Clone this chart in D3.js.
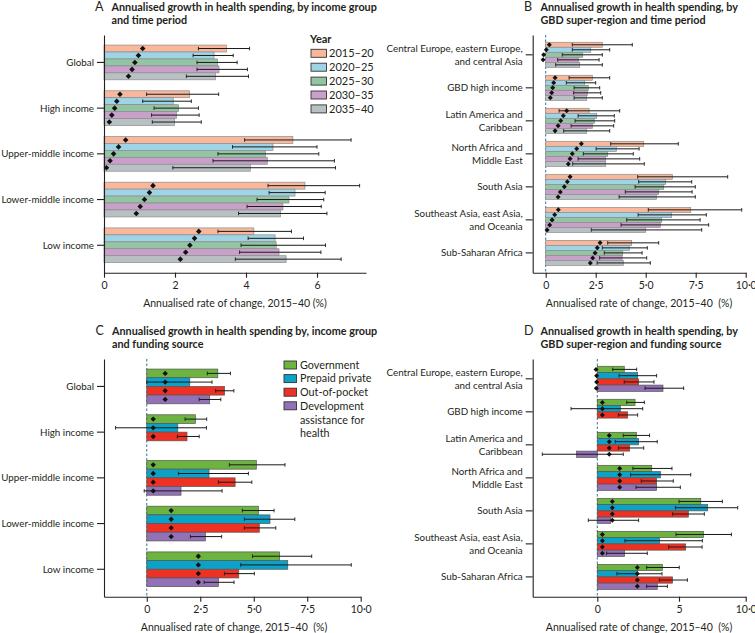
<!DOCTYPE html>
<html><head><meta charset="utf-8">
<script src="https://cdn.jsdelivr.net/npm/d3@7"></script>
<style>
body{margin:0;background:#fff}
svg{display:block}
text{font-family:Lato,"Noto Sans",sans-serif;fill:#231f20}
</style>
</head><body>
<svg id="chart" width="755" height="633"></svg>
<script>
// ---------- categories ----------
const incomeGroups = ["Global","High income","Upper-middle income","Lower-middle income","Low income"];
const superRegions = ["Central Europe, eastern Europe,\nand central Asia","GBD high income","Latin America and\nCaribbean","North Africa and\nMiddle East","South Asia","Southeast Asia, east Asia,\nand Oceania","Sub-Saharan Africa"];
const periods = ["2015–20","2020–25","2025–30","2030–35","2035–40"];
const sources = ["Government","Prepaid private","Out-of-pocket","Development\nassistance for\nhealth"];
const periodColors = ["#f9b89b","#9fd4e6","#93c4a3","#c8a0c9","#b9c0c4"];
const sourceColors = ["#6cb33f","#0ba2c8","#ee3123","#9271b6"];

// ---------- tick labels ----------
const ticksA = [0,2,4,6];
const tickLabelsA = ["0","2","4","6"];
const ticksBC = [0,2.5,5,7.5,10];
const tickLabelsBC = ["0","2·5","5·0","7·5","10·0"];
const ticksD = [0,5,10];
const tickLabelsD = ["0","5","10·0"];

// ---------- panel A: income group x time period ----------
const aBar = [
 [3.45,3.10,3.20,3.24,3.14],
 [2.41,1.95,2.10,2.04,1.99],
 [5.32,4.76,4.55,4.60,4.12],
 [5.66,5.38,5.21,5.04,4.97],
 [4.22,4.82,4.85,4.93,5.13]];
const aPoint = [
 [1.09,0.97,0.87,0.79,0.69],
 [0.45,0.36,0.30,0.22,0.15],
 [0.61,0.41,0.27,0.17,0.07],
 [1.38,1.28,1.14,1.02,0.91],
 [2.67,2.55,2.42,2.30,2.15]];
const aLo = [
 [2.66,2.51,2.62,2.62,2.32],
 [1.20,1.09,1.41,1.34,1.36],
 [3.96,3.62,3.21,3.07,1.94],
 [4.62,4.65,4.31,4.03,3.79],
 [3.21,4.06,3.86,3.82,3.70]];
const aHi = [
 [4.10,3.64,3.75,4.04,4.07],
 [3.23,2.46,2.66,2.68,2.74],
 [6.96,6.00,6.05,6.49,6.52],
 [7.20,6.23,6.19,6.12,6.28],
 [5.28,5.62,6.24,6.11,6.68]];

// ---------- panel B: super-region x time period ----------
const bBar = [
 [2.83,2.25,1.85,1.63,1.70],
 [2.33,1.95,2.13,2.08,2.05],
 [2.17,2.55,2.43,2.33,2.05],
 [4.90,3.53,3.10,3.00,3.00],
 [6.33,6.00,5.90,5.65,5.53],
 [7.25,6.30,5.80,5.73,5.00],
 [4.30,4.18,3.85,3.82,3.88]];
const bPoint = [
 [0.18,0.03,-0.10,-0.13,null],
 [0.47,0.40,0.35,0.30,0.23],
 [1.05,0.88,0.75,0.62,0.47],
 [1.78,1.55,1.33,1.22,1.13],
 [1.22,1.08,0.93,0.73,0.62],
 [0.63,0.45,0.32,0.20,0.07],
 [2.72,2.58,2.47,2.35,2.23]];
const bLo = [
 [1.33,1.33,0.83,0.60,0.50],
 [1.17,1.03,1.42,1.40,1.42],
 [0.67,1.62,1.47,1.27,0.90],
 [3.25,2.52,1.88,1.62,1.35],
 [4.60,4.65,4.47,3.98,3.67],
 [5.13,4.62,4.05,3.77,2.28],
 [3.10,2.83,2.93,2.70,2.57]];
const bHi = [
 [4.33,3.20,2.83,2.67,2.83],
 [3.20,2.50,2.70,2.75,2.83],
 [3.70,3.43,3.45,3.40,3.20],
 [6.63,4.67,4.38,4.70,4.93],
 [9.10,7.30,7.48,7.32,7.48],
 [9.80,8.03,7.72,8.15,7.80],
 [5.65,5.08,4.82,5.05,5.23]];

// ---------- panel C: income group x funding source ----------
const cBar = [
 [3.32,2.01,3.64,2.94],
 [2.27,1.45,1.88,null],
 [5.12,2.91,4.13,1.60],
 [5.22,5.76,5.26,2.74],
 [6.21,6.59,4.30,3.35]];
const cPoint = [
 [0.86,0.86,0.86,0.86],
 [0.30,0.30,0.30,null],
 [0.30,0.30,0.30,0.30],
 [1.14,1.14,1.14,1.14],
 [2.41,2.41,2.41,2.41]];
const cLo = [
 [2.83,0.00,3.22,2.45],
 [1.79,-1.46,1.43,null],
 [3.86,1.48,3.35,-0.12],
 [4.47,4.56,4.56,2.04],
 [4.94,4.39,3.63,2.68]];
const cHi = [
 [3.91,3.05,4.07,3.46],
 [2.80,2.79,2.45,null],
 [6.46,4.75,4.91,3.52],
 [5.95,6.92,6.03,3.50],
 [7.71,9.56,5.03,4.08]];

// ---------- panel D: super-region x funding source ----------
const dBar = [
 [1.65,2.47,2.53,4.02],
 [2.31,1.41,1.86,null],
 [2.39,2.53,1.98,-1.27],
 [3.33,3.86,3.63,3.63],
 [6.63,7.15,5.70,0.82],
 [6.83,3.80,5.50,1.67],
 [3.98,2.45,4.61,3.67]];
const dPoint = [
 [-0.08,-0.04,-0.04,-0.06],
 [0.31,0.31,0.31,null],
 [0.73,0.73,0.73,0.73],
 [1.37,1.37,1.37,1.37],
 [0.92,0.92,0.92,0.92],
 [0.31,0.31,0.31,0.31],
 [2.45,2.45,2.45,2.45]];
const dLo = [
 [0.94,1.33,1.65,2.92],
 [1.80,-1.61,1.29,null],
 [1.59,1.10,1.29,-3.37],
 [2.18,2.04,2.69,2.37],
 [5.00,4.78,4.61,-0.55],
 [4.82,1.69,4.37,0.57],
 [3.02,1.20,3.80,3.02]];
const dHi = [
 [2.41,3.63,3.47,5.35],
 [2.88,2.78,2.47,null],
 [3.20,3.67,2.84,1.59],
 [4.57,5.88,4.65,5.10],
 [8.25,9.40,6.90,2.53],
 [8.93,6.75,6.73,3.06],
 [5.02,3.96,5.63,4.29]];

const axisTitleA = "Annualised rate of change, 2015–40 (%)";
const axisTitleB = "Annualised rate of change, 2015–40\u00a0\u00a0(%)";

const svg = d3.select("#chart");

function panel(o){
  const g = svg.append("g");
  const y = d3.scaleBand().domain(o.cats).range(o.yRange).paddingInner(0.24).paddingOuter(0.22);
  const sub = d3.scaleBand().domain(o.keys).range([0, y.bandwidth()]);
  const x = o.x;

  if (o.zero) {
    g.append("line").attr("x1", x(0)).attr("x2", x(0))
      .attr("y1", o.yRange[0]).attr("y2", o.yRange[1])
      .attr("stroke", "#3f6f8f").attr("stroke-width", 1).attr("stroke-dasharray", "2.5,2");
  }

  o.cats.forEach((c, i) => {
    o.keys.forEach((k, j) => {
      const v = o.bar[i][j];
      if (v == null) return;
      const y0 = y(c) + sub(k), h = sub.bandwidth();
      const cy = y0 + h / 2;
      g.append("rect")
        .attr("x", Math.min(x(0), x(v))).attr("y", y0)
        .attr("width", Math.abs(x(v) - x(0))).attr("height", h)
        .attr("fill", o.colors[j]).attr("stroke", o.stroke).attr("stroke-width", 0.7);
      const lo = o.lo[i][j], hi = o.hi[i][j];
      if (lo != null) {
        g.append("line").attr("x1", x(lo)).attr("x2", x(hi)).attr("y1", cy).attr("y2", cy)
          .attr("stroke", "#1a1a1a").attr("stroke-width", 1);
        [lo, hi].forEach(e => g.append("line").attr("x1", x(e)).attr("x2", x(e))
          .attr("y1", cy - 1.8).attr("y2", cy + 1.8).attr("stroke", "#1a1a1a").attr("stroke-width", 0.9));
      }
      const p = o.point[i][j];
      if (p != null) {
        g.append("path").attr("d", d3.symbol(d3.symbolDiamond2, o.dsize)())
          .attr("transform", `translate(${x(p)},${cy})`).attr("fill", "#111");
      }
    });
  });

  // x axis
  const xa = g.append("g").attr("transform", `translate(0,${o.yRange[1]})`)
    .call(d3.axisBottom(x).tickValues(o.ticks).tickFormat((d, i) => o.tickLabels[i])
      .tickSize(5).tickSizeOuter(0).tickPadding(4));
  xa.selectAll("path,line").attr("stroke", "#231f20").attr("stroke-width", 1.1);
  xa.selectAll("text").attr("font-size", 10.5).attr("font-family", "Lato,'Noto Sans',sans-serif").attr("fill", "#231f20");

  // y axis
  const ya = g.append("g").attr("transform", `translate(${x.range()[0]},0)`)
    .call(d3.axisLeft(y).tickSize(7).tickSizeOuter(0).tickPadding(3).tickFormat(""));
  ya.selectAll("path,line").attr("stroke", "#231f20").attr("stroke-width", 1.1);
  ya.selectAll(".tick").each(function(d){
    const lines = d.split("\n");
    const t = d3.select(this).append("text").attr("x", -10).attr("text-anchor", "end")
      .attr("font-size", 9.8).attr("font-family", "Lato,'Noto Sans',sans-serif").attr("fill", "#231f20");
    lines.forEach((l, k) => t.append("tspan").attr("x", -10)
      .attr("y", (k - (lines.length - 1) / 2) * 13.3).attr("dy", "0.35em").text(l));
  });

  // axis title
  g.append("text").attr("x", o.titleX).attr("y", o.yRange[1] + 34).attr("text-anchor", "middle")
    .attr("font-size", 10.5).text(o.axisTitle);

  // panel title
  g.append("text").attr("font-size", 12.5).attr("x", o.letterX).attr("y", o.yRange[0] - 24).text(o.letter);
  o.title.forEach((l, k) => g.append("text").attr("x", o.letterX + 16.5).attr("y", o.yRange[0] - 24 + k * 12.6)
    .attr("font-size", 10.8).attr("font-weight", 700).text(l));
  return g;
}

panel({cats: incomeGroups, keys: periods, colors: periodColors, bar: aBar, point: aPoint, lo: aLo, hi: aHi,
  x: d3.scaleLinear().domain([0, 7.38]).range([104, 366]), yRange: [35, 272.7],
  ticks: ticksA, tickLabels: tickLabelsA, zero: false, stroke: "#8c8c8c", dsize: 20,
  axisTitle: axisTitleA, titleX: 235, letter: "A", letterX: 95,
  title: ["Annualised growth in health spending, by income group", "and time period"]});

panel({cats: superRegions, keys: periods, colors: periodColors, bar: bBar, point: bPoint, lo: bLo, hi: bHi,
  x: d3.scaleLinear().domain([-0.65, 10]).range([532.7, 745.7]), yRange: [35, 272.7],
  ticks: ticksBC, tickLabels: tickLabelsBC, zero: true, stroke: "#8c8c8c", dsize: 16,
  axisTitle: axisTitleB, titleX: 639, letter: "B", letterX: 524,
  title: ["Annualised growth in health spending, by", "GBD super-region and time period"]});

panel({cats: incomeGroups, keys: sources, colors: sourceColors, bar: cBar, point: cPoint, lo: cLo, hi: cHi,
  x: d3.scaleLinear().domain([-2, 10]).range([104, 360.7]), yRange: [359, 596.7],
  ticks: ticksBC, tickLabels: tickLabelsBC, zero: true, stroke: "#555", dsize: 18,
  axisTitle: axisTitleB, titleX: 234, letter: "C", letterX: 95.5,
  title: ["Annualised growth in health spending by, income group", "and funding source"]});

panel({cats: superRegions, keys: sources, colors: sourceColors, bar: dBar, point: dPoint, lo: dLo, hi: dHi,
  x: d3.scaleLinear().domain([-3.96, 0, 5, 10]).range([532.7, 597.3, 679, 745.7]), yRange: [359, 596.7],
  ticks: ticksD, tickLabels: tickLabelsD, zero: true, stroke: "#555", dsize: 16,
  axisTitle: axisTitleB, titleX: 639, letter: "D", letterX: 524,
  title: ["Annualised growth in health spending, by", "GBD super-region and funding source"]});

// legend A
const lgA = svg.append("g");
lgA.append("text").attr("x", 310).attr("y", 42.5).attr("font-size", 11).attr("font-weight", 700).text("Year");
periods.forEach((p, i) => {
  const cy = 53.3 + i * 13.9;
  lgA.append("rect").attr("x", 311).attr("y", cy - 4).attr("width", 15.5).attr("height", 8)
    .attr("fill", periodColors[i]).attr("stroke", "#333").attr("stroke-width", 0.9);
  lgA.append("text").attr("x", 329).attr("y", cy).attr("dy", "0.36em").attr("font-size", 11).text(p);
});

// legend C
const lgC = svg.append("g");
sources.forEach((s, i) => {
  const cy = 365 + i * 13.6;
  lgC.append("rect").attr("x", 284).attr("y", cy - 4).attr("width", 12.5).attr("height", 8)
    .attr("fill", sourceColors[i]).attr("stroke", "#333").attr("stroke-width", 0.9);
  s.split("\n").forEach((l, k) => lgC.append("text").attr("x", 300).attr("y", cy + k * 13.9)
    .attr("dy", "0.36em").attr("font-size", 10.8).text(l));
});
</script>
</body></html>
